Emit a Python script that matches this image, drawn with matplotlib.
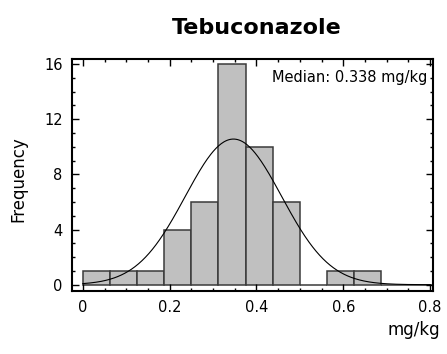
import numpy as np
import matplotlib
matplotlib.use("Agg")
import matplotlib.pyplot as plt
from matplotlib.ticker import MultipleLocator

plt.rcParams['font.family'] = ['DejaVu Sans']

title = "Tebuconazole"
bin_edges = [0.0, 0.0625, 0.125, 0.1875, 0.25, 0.3125, 0.375, 0.4375, 0.5,
             0.5625, 0.625, 0.6875, 0.75, 0.8125]
counts = [1, 1, 1, 4, 6, 16, 10, 6, 0, 1, 1, 0, 0]
fit_mean = 0.347
fit_sd = 0.111
median_label = "Median: 0.338 mg/kg"
x_ticks = [0, 0.2, 0.4, 0.6, 0.8]
x_tick_labels = ["0", "0.2", "0.4", "0.6", "0.8"]
y_ticks = [0, 4, 8, 12, 16]

fig = plt.figure(figsize=(4.47, 3.54), dpi=100)
ax = fig.add_axes([0.162, 0.179, 0.806, 0.6535])

edges = np.array(bin_edges)
ax.hist(edges[:-1], bins=edges, weights=counts, color='#c0c0c0',
        edgecolor='#3a3a3a', linewidth=1.1)

n = sum(counts)
bw = edges[1] - edges[0]
xs = np.linspace(0, 0.8, 400)
ys = n * bw / (fit_sd * np.sqrt(2 * np.pi)) * np.exp(-0.5 * ((xs - fit_mean) / fit_sd) ** 2)
ax.plot(xs, ys, color='black', linewidth=0.8)

ax.set_xlim(-0.024, 0.806)
ax.set_ylim(-0.43, 16.34)
ax.set_xticks(x_ticks)
ax.set_xticklabels(x_tick_labels)
ax.set_yticks(y_ticks)
ax.xaxis.set_minor_locator(MultipleLocator(0.05))
ax.yaxis.set_minor_locator(MultipleLocator(1))
ax.tick_params(which='both', direction='in', top=True, right=True, labelsize=10.5,
               width=1.0, pad=7)
ax.tick_params(which='major', length=5)
ax.tick_params(which='minor', length=2.5)
for s in ax.spines.values():
    s.set_linewidth(1.5)

ax.text(0.985, 0.955, median_label, transform=ax.transAxes, ha='right', va='top',
        fontsize=10.5)
ax.set_title(title, fontsize=16, fontweight='bold', pad=18, x=0.512)
fig.text(0.042, 0.493, "Frequency", rotation=90, ha='center', va='center', fontsize=12)
fig.text(0.985, 0.068, "mg/kg", ha='right', va='center', fontsize=12)

fig.savefig("out.png", dpi=100)
